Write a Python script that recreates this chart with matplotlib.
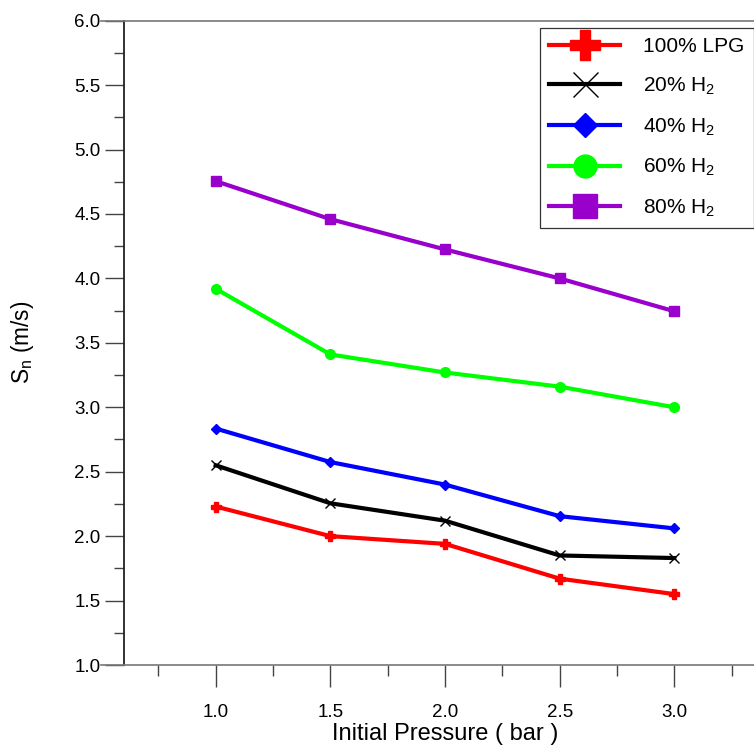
import matplotlib
matplotlib.use("Agg")
import matplotlib.pyplot as plt
from matplotlib.ticker import MultipleLocator, FormatStrFormatter

plt.rcParams['font.family'] = ['Liberation Sans', 'DejaVu Sans']
plt.rcParams['mathtext.fontset'] = 'custom'
plt.rcParams['mathtext.rm'] = 'Liberation Sans'
plt.rcParams['mathtext.it'] = 'Liberation Sans'

pressure = [1.0, 1.5, 2.0, 2.5, 3.0]
lpg100 = [2.23, 2.00, 1.94, 1.67, 1.55]
h2_20 = [2.55, 2.255, 2.12, 1.85, 1.83]
h2_40 = [2.835, 2.575, 2.40, 2.155, 2.06]
h2_60 = [3.92, 3.41, 3.27, 3.16, 3.00]
h2_80 = [4.755, 4.46, 4.225, 4.00, 3.745]

labels = ['100% LPG', r'20% $\mathregular{H_2}$', r'40% $\mathregular{H_2}$',
          r'60% $\mathregular{H_2}$', r'80% $\mathregular{H_2}$']
series = [lpg100, h2_20, h2_40, h2_60, h2_80]
colors = ['#FF0000', '#000000', '#0000FF', '#00FF00', '#9900CC']
markers = ['P', 'x', 'D', 'o', 's']
msizes = [7, 7, 5.5, 7, 7.5]
leg_msizes = [21, 18, 12.5, 16.5, 17.5]

fig = plt.figure(figsize=(7.54, 7.45), dpi=100)
W, H = 754, 745
ax = fig.add_axes([101 / W, 1 - 665 / H, (789 - 101) / W, (665 - 20.7) / H])

for y, c, m, ms, lab in zip(series, colors, markers, msizes, labels):
    if m == 'x':
        ax.plot(pressure, y, color=c, lw=3, marker=m, ms=ms, mew=1.0,
                label=lab, clip_on=False)
    else:
        ax.plot(pressure, y, color=c, lw=3, marker=m, ms=ms, mec=c, mfc=c,
                label=lab, clip_on=False)

ax.set_xlim(0.5, 3.5)
ax.set_ylim(1.0, 6.0)
ax.set_xticks([1.0, 1.5, 2.0, 2.5, 3.0])
ax.set_xticks([0.75, 1.25, 1.75, 2.25, 2.75, 3.25], minor=True)
ax.yaxis.set_major_locator(MultipleLocator(0.5))
ax.yaxis.set_minor_locator(MultipleLocator(0.25))
ax.xaxis.set_major_formatter(FormatStrFormatter('%.1f'))
ax.yaxis.set_major_formatter(FormatStrFormatter('%.1f'))

ax.spines['right'].set_visible(False)
ax.spines['left'].set_position(('data', 0.6))
ax.spines['left'].set_color('#222222')
ax.spines['left'].set_linewidth(1.3)
for s in ['top', 'bottom']:
    ax.spines[s].set_color('#777777')
    ax.spines[s].set_linewidth(1.2)

ax.tick_params(axis='x', which='major', direction='out', length=15.5, width=1.0,
               color='#444444', labelsize=13.5, pad=12.5)
ax.tick_params(axis='x', which='minor', direction='out', length=8, width=1.0,
               color='#444444')
ax.tick_params(axis='y', which='major', direction='out', length=14, width=1.0,
               color='#444444', labelsize=13.5, pad=3)
ax.tick_params(axis='y', which='minor', direction='out', length=7.5, width=1.0,
               color='#444444')
ax.tick_params(top=False, right=False)

ax.set_xlabel('Initial Pressure ( bar )', fontsize=17, labelpad=1.5)
ax.set_ylabel(r'$\mathregular{S_n}$ (m/s)', fontsize=16.3)
ax.yaxis.set_label_coords((36 - 101) / (789 - 101), 0.5)

leg = fig.legend(loc='upper right', bbox_to_anchor=(753.5 / W, 1 - 28 / H),
                 fontsize=15, frameon=True, fancybox=False, framealpha=1,
                 edgecolor='#333333', handlelength=3.4, handletextpad=1.1,
                 labelspacing=0.93, borderpad=0.45, borderaxespad=0)
leg.get_frame().set_linewidth(0.9)
for h, s in zip(leg.legend_handles, leg_msizes):
    h.set_markersize(s)

fig.savefig('out.png', dpi=100)
